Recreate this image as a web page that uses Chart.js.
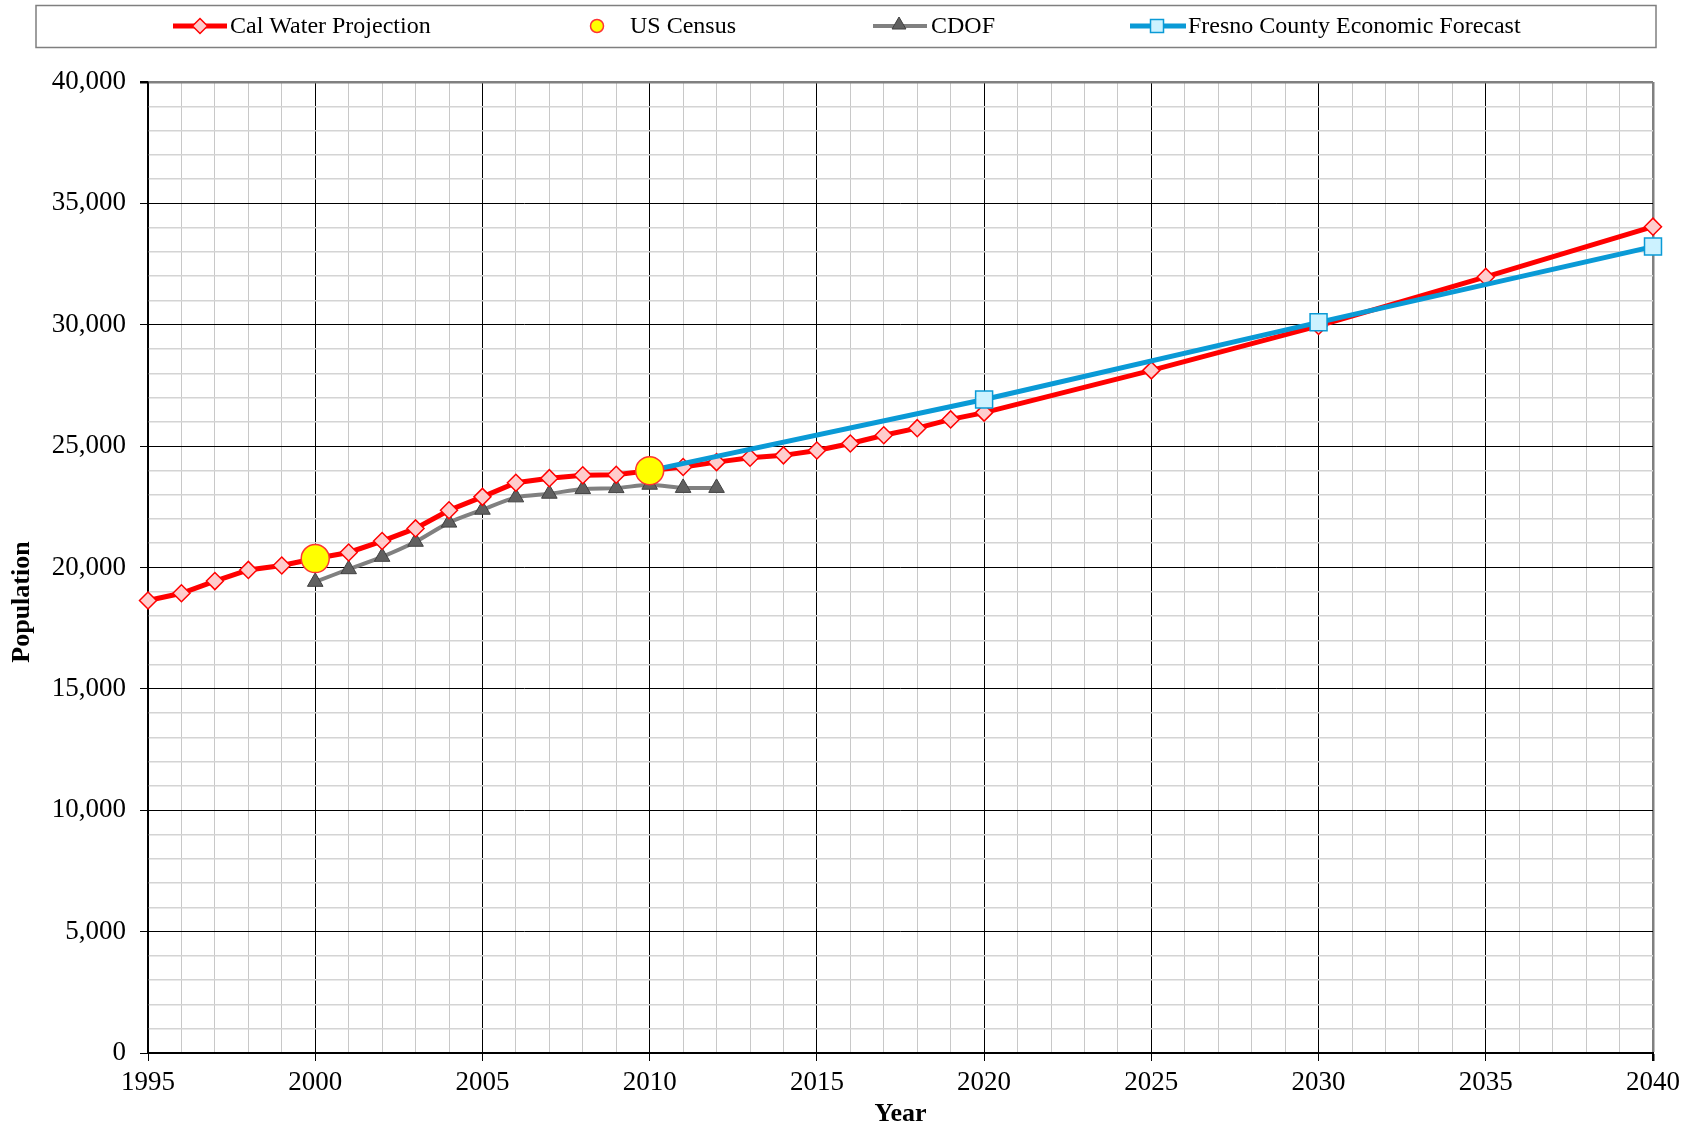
<!DOCTYPE html>
<html>
<head>
<meta charset="utf-8">
<title>Population Projection</title>
<script src="https://cdn.jsdelivr.net/npm/chart.js@4/dist/chart.umd.min.js"></script>
<style>
    body { margin: 0; background: #fff; }
    canvas { display: block; }
</style>
</head>
<body>
<canvas id="popChart" width="1694" height="1130"></canvas>
<script>
// ---------------------------------------------------------------
// Данные (годы и значения численности населения)
// ---------------------------------------------------------------
const calWaterYears = [1995, 1996, 1997, 1998, 1999, 2000, 2001, 2002, 2003, 2004,
    2005, 2006, 2007, 2008, 2009, 2010, 2011, 2012, 2013, 2014, 2015, 2016, 2017,
    2018, 2019, 2020, 2025, 2030, 2035, 2040];
const calWaterValues = [18640, 18940, 19440, 19900, 20080, 20370, 20620, 21090, 21610, 22360,
    22910, 23490, 23680, 23800, 23820, 23990, 24140, 24340, 24520, 24620, 24820, 25110, 25450,
    25740, 26100, 26380, 28120, 29950, 31970, 34040];

const censusYears = [2000, 2010];
const censusValues = [20370, 23990];

const cdofYears = [2000, 2001, 2002, 2003, 2004, 2005, 2006, 2007, 2008, 2009, 2010, 2011, 2012];
const cdofValues = [19410, 19930, 20440, 21060, 21850, 22380, 22890, 23040, 23230, 23270, 23410, 23280, 23280];

const fresnoYears = [2010, 2020, 2030, 2040];
const fresnoValues = [23990, 26920, 30100, 33220];

const seriesLabels = ['Cal Water Projection', 'US Census', 'CDOF', 'Fresno County Economic Forecast'];

const toPoints = (xs, ys) => xs.map((x, i) => ({ x: x, y: ys[i] }));

const SERIF = '"Liberation Serif", "Times New Roman", serif';

// ---------------------------------------------------------------
// Легенда в рамке + подписи осей (рисуем сами)
// ---------------------------------------------------------------
function drawMarker(ctx, style, x, y, r, fill, stroke, lw) {
    ctx.save();
    ctx.fillStyle = fill;
    ctx.strokeStyle = stroke;
    ctx.lineWidth = lw;
    ctx.beginPath();
    if (style === 'rectRot') {
        ctx.moveTo(x, y - r); ctx.lineTo(x + r, y); ctx.lineTo(x, y + r); ctx.lineTo(x - r, y);
        ctx.closePath();
    } else if (style === 'circle') {
        ctx.arc(x, y, r, 0, Math.PI * 2);
    } else if (style === 'triangle') {
        ctx.moveTo(x, y - r);
        ctx.lineTo(x + r * 0.866, y + r * 0.5);
        ctx.lineTo(x - r * 0.866, y + r * 0.5);
        ctx.closePath();
    } else {
        ctx.rect(x - r, y - r, 2 * r, 2 * r);
    }
    ctx.fill();
    ctx.stroke();
    ctx.restore();
}

const framePlugin = {
    id: 'frame',
    beforeDraw(chart) {
        const ctx = chart.ctx;
        ctx.save();
        ctx.fillStyle = '#fff';
        ctx.fillRect(0, 0, chart.width, chart.height);
        ctx.restore();
    },
    afterDraw(chart) {
        const ctx = chart.ctx;
        const area = chart.chartArea;
        ctx.save();

        // рамка легенды
        ctx.strokeStyle = '#7f7f7f';
        ctx.lineWidth = 1.5;
        ctx.strokeRect(36, 5.5, 1620, 42);

        const ly = 26;
        ctx.font = '24px ' + SERIF;
        ctx.fillStyle = '#000';
        ctx.textBaseline = 'middle';
        ctx.textAlign = 'left';

        // Cal Water
        ctx.strokeStyle = '#ff0000'; ctx.lineWidth = 5;
        ctx.beginPath(); ctx.moveTo(173, ly); ctx.lineTo(227, ly); ctx.stroke();
        drawMarker(ctx, 'rectRot', 200, ly, 7.5, '#ffcccc', '#ff0000', 1.5);
        ctx.fillText(seriesLabels[0], 230, ly + 1);

        // US Census
        drawMarker(ctx, 'circle', 597, ly, 6.5, '#ffff00', '#ff3333', 1.5);
        ctx.fillText(seriesLabels[1], 630, ly + 1);

        // CDOF
        ctx.strokeStyle = '#808080'; ctx.lineWidth = 4;
        ctx.beginPath(); ctx.moveTo(873, ly); ctx.lineTo(927, ly); ctx.stroke();
        drawMarker(ctx, 'triangle', 899, ly - 1, 8, '#606060', '#404040', 1);
        ctx.fillText(seriesLabels[2], 931, ly + 1);

        // Fresno
        ctx.strokeStyle = '#0a9ad6'; ctx.lineWidth = 5;
        ctx.beginPath(); ctx.moveTo(1130, ly); ctx.lineTo(1186, ly); ctx.stroke();
        drawMarker(ctx, 'rect', 1157, ly, 6.5, '#ccf2ff', '#0a9ad6', 1.5);
        ctx.fillText(seriesLabels[3], 1188, ly + 1);

        // подписи осей
        ctx.font = 'bold 26px ' + SERIF;
        ctx.textAlign = 'center';
        ctx.fillText('Year', (area.left + area.right) / 2, 1114);
        ctx.translate(22, 602);
        ctx.rotate(-Math.PI / 2);
        ctx.fillText('Population', 0, 0);
        ctx.restore();
    }
};

// ---------------------------------------------------------------
// График
// ---------------------------------------------------------------
const ctx = document.getElementById('popChart').getContext('2d');
const popChart = new Chart(ctx, {
    type: 'line',
    data: {
        datasets: [
            {
                label: seriesLabels[1],
                data: toPoints(censusYears, censusValues),
                showLine: false,
                pointStyle: 'circle',
                pointRadius: 14,
                pointBackgroundColor: '#ffff00',
                pointBorderColor: '#ff3333',
                pointBorderWidth: 1.5,
                order: 0,
                clip: false
            },
            {
                label: seriesLabels[0],
                data: toPoints(calWaterYears, calWaterValues),
                borderColor: '#ff0000',
                borderWidth: 5,
                pointStyle: 'rectRot',
                pointRadius: 8.5,
                pointBackgroundColor: '#ffcccc',
                pointBorderColor: '#ff0000',
                pointBorderWidth: 1.5,
                tension: 0,
                order: 2,
                clip: false
            },
            {
                label: seriesLabels[3],
                data: toPoints(fresnoYears, fresnoValues),
                borderColor: '#0a9ad6',
                borderWidth: 5,
                pointStyle: 'rect',
                pointRadius: 12,
                pointBackgroundColor: '#ccf2ff',
                pointBorderColor: '#0a9ad6',
                pointBorderWidth: 1.5,
                order: 1,
                clip: false
            },
            {
                label: seriesLabels[2],
                data: toPoints(cdofYears, cdofValues),
                borderColor: '#808080',
                borderWidth: 4,
                pointStyle: 'triangle',
                pointRadius: 9,
                pointBackgroundColor: '#606060',
                pointBorderColor: '#404040',
                pointBorderWidth: 1,
                tension: 0.25,
                order: 3,
                clip: false
            }
        ]
    },
    options: {
        responsive: false,
        animation: false,
        devicePixelRatio: 1,
        layout: { padding: { top: 82, right: 41, bottom: 0, left: 0 } },
        plugins: {
            legend: { display: false },
            tooltip: { enabled: false },
            title: { display: false }
        },
        scales: {
            x: {
                type: 'linear',
                min: 1995,
                max: 2040,
                afterFit: scale => { scale.height = 77; },
                ticks: {
                    stepSize: 1,
                    autoSkip: false,
                    maxRotation: 0,
                    minRotation: 0,
                    padding: 6,
                    color: '#000',
                    font: { family: SERIF, size: 27 },
                    callback: v => (v % 5 === 0 ? String(v) : '')
                },
                grid: {
                    color: c => {
                        const v = c.tick ? c.tick.value : 0;
                        if (v === 2040) return '#808080';
                        return v % 5 === 0 ? '#000' : '#c8c8c8';
                    },
                    lineWidth: c => {
                        const v = c.tick ? c.tick.value : 0;
                        if (v === 2040) return 2.5;
                        return 1;
                    },
                    tickColor: c => (c.tick && c.tick.value % 5 === 0 ? '#000' : 'rgba(0,0,0,0)'),
                    tickLength: 8
                },
                border: { color: '#000', width: 2 }
            },
            y: {
                min: 0,
                max: 40000,
                afterFit: scale => { scale.width = 148; },
                ticks: {
                    stepSize: 1000,
                    autoSkip: false,
                    padding: 14,
                    color: '#000',
                    font: { family: SERIF, size: 27 },
                    callback: v => (v % 5000 === 0 ? v.toLocaleString('en-US') : '')
                },
                grid: {
                    color: c => {
                        const v = c.tick ? c.tick.value : 0;
                        if (v === 40000) return '#808080';
                        return v % 5000 === 0 ? '#000' : '#d4d4d4';
                    },
                    lineWidth: c => {
                        const v = c.tick ? c.tick.value : 0;
                        if (v === 40000) return 2.5;
                        return v % 5000 === 0 ? 1 : 1.5;
                    },
                    tickColor: c => (c.tick && c.tick.value % 5000 === 0 ? '#000' : 'rgba(0,0,0,0)'),
                    tickLength: 8
                },
                border: { color: '#000', width: 1.5 }
            }
        }
    },
    plugins: [framePlugin]
});
</script>
</body>
</html>
